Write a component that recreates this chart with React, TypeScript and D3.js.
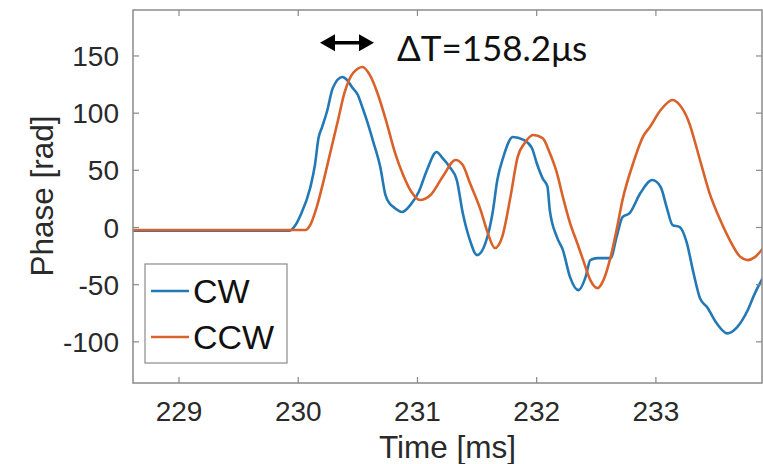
import React from "react";
import * as d3 from "d3";

const cwTime = [228.61, 229.93, 229.97, 230.02, 230.10, 230.14, 230.17, 230.20, 230.24, 230.29, 230.37, 230.41, 230.45, 230.50, 230.54, 230.58, 230.63, 230.69, 230.73, 230.77, 230.80, 230.87, 230.94, 231.01, 231.08, 231.16, 231.21, 231.27, 231.33, 231.38, 231.44, 231.50, 231.57, 231.63, 231.67, 231.72, 231.80, 231.89, 231.96, 232.00, 232.05, 232.09, 232.11, 232.17, 232.22, 232.28, 232.35, 232.41, 232.45, 232.51, 232.62, 232.67, 232.72, 232.78, 232.87, 232.97, 233.04, 233.09, 233.14, 233.20, 233.26, 233.31, 233.37, 233.43, 233.51, 233.60, 233.68, 233.77, 233.83, 233.90];
const cwPhase = [-2.7, -2.7, 1, 10.9, 34.5, 54.6, 78.2, 87.8, 101, 122, 131.6, 129, 122.9, 115.9, 104.5, 92.2, 74.7, 51.9, 29, 20.5, 17.8, 13.5, 19.6, 31, 50.3, 66, 60.7, 52.9, 41.5, 12.6, -11, -24.2, -13.7, 12.6, 41.5, 61.6, 79.1, 76.6, 69.5, 56.4, 43, 36, 15.2, -8.4, -19.8, -43.4, -54.8, -43.4, -28.5, -26.8, -26.8, -8.4, 9.1, 12.6, 30.1, 41.5, 35.4, 17.9, 2.1, 0.4, -13.6, -37.3, -61.9, -69.8, -83.8, -92.6, -87.3, -72.4, -57.6, -43.6];

const ccwTime = [228.61, 230.06, 230.10, 230.16, 230.21, 230.27, 230.33, 230.39, 230.46, 230.54, 230.60, 230.67, 230.74, 230.81, 230.88, 230.95, 231.02, 231.11, 231.21, 231.32, 231.38, 231.44, 231.53, 231.59, 231.65, 231.71, 231.78, 231.84, 231.90, 231.97, 232.05, 232.11, 232.17, 232.22, 232.28, 232.34, 232.39, 232.45, 232.51, 232.56, 232.62, 232.67, 232.72, 232.81, 232.89, 232.95, 233.04, 233.14, 233.20, 233.27, 233.37, 233.45, 233.54, 233.62, 233.71, 233.77, 233.83, 233.90];
const ccwPhase = [-2.2, -2.2, 2.1, 19.6, 39.7, 66, 92.2, 118.5, 135.1, 140.4, 133.4, 115.9, 92.2, 66, 45.9, 31, 24, 28.4, 44.1, 59, 54.6, 38.9, 15.2, -4.9, -18, -8.4, 26.6, 61.6, 73.9, 80.9, 78.2, 65.1, 47.6, 26.6, 3.9, -13.6, -28.5, -46, -53, -46, -25.9, -2.3, 24, 56.4, 79.1, 87.9, 102.7, 111.5, 107.1, 94, 59, 30.1, 6.5, -11, -25.9, -28.5, -25.9, -18];

const xTicks = [229, 230, 231, 232, 233];
const yTicks = [-100, -50, 0, 50, 100, 150];
const seriesNames = ["CW", "CCW"];
const annotation = "ΔT=158.2μs";

const W = 763, H = 464;
const L = 133, R = 762, T = 10, B = 383;
const blue = "#2279b5";
const orange = "#d9622b";
const axisCol = "#8a8a8a";
const textCol = "#2a2a2a";
const font = "'Liberation Sans', Arial, Helvetica, sans-serif";

export default function App() {
  const x = d3.scaleLinear().domain([228.614, 233.89]).range([L, R]);
  const y = d3.scaleLinear().domain([-136, 190.2]).range([B, T]);
  const line = d3
    .line<[number, number]>()
    .x((d) => x(d[0]))
    .y((d) => y(d[1]))
    .curve(d3.curveMonotoneX);
  const cw = cwTime.map((t, i) => [t, cwPhase[i]] as [number, number]);
  const ccw = ccwTime.map((t, i) => [t, ccwPhase[i]] as [number, number]);
  const tl = 6;
  const ay = 42.7, ax1 = 320, ax2 = 374;
  return (
    <svg width={W} height={H} style={{ position: "absolute", left: 0, top: 0, background: "#fff" }}>
      <defs>
        <clipPath id="plot">
          <rect x={L} y={T} width={R - L} height={B - T} />
        </clipPath>
      </defs>
      <rect x={0} y={0} width={W} height={H} fill="#fff" />
      <g clipPath="url(#plot)" fill="none" strokeWidth={2.6} strokeLinejoin="round">
        <path d={line(cw) || ""} stroke={blue} />
        <path d={line(ccw) || ""} stroke={orange} />
      </g>
      <rect x={L} y={T} width={R - L} height={B - T} fill="none" stroke={axisCol} strokeWidth={1.5} />
      {xTicks.map((t) => (
        <g key={"x" + t}>
          <line x1={x(t)} x2={x(t)} y1={B} y2={B - tl} stroke={axisCol} strokeWidth={1.2} />
          <line x1={x(t)} x2={x(t)} y1={T} y2={T + tl} stroke={axisCol} strokeWidth={1.2} />
          <text x={x(t)} y={421} textAnchor="middle" fontSize={28} fontFamily={font} fill={textCol}>
            {t}
          </text>
        </g>
      ))}
      {yTicks.map((t) => (
        <g key={"y" + t}>
          <line x1={L} x2={L + tl} y1={y(t)} y2={y(t)} stroke={axisCol} strokeWidth={1.2} />
          <line x1={R} x2={R - tl} y1={y(t)} y2={y(t)} stroke={axisCol} strokeWidth={1.2} />
          <text x={119} y={y(t)} dy="0.36em" textAnchor="end" fontSize={28} fontFamily={font} fill={textCol}>
            {t}
          </text>
        </g>
      ))}
      <text x={(L + R) / 2} y={458} textAnchor="middle" fontSize={31.5} fontFamily={font} fill={textCol}>
        Time [ms]
      </text>
      <text transform="translate(53,196) rotate(-90)" textAnchor="middle" fontSize={31.5} fontFamily={font} fill={textCol}>
        Phase [rad]
      </text>
      <rect x={145} y={264} width={142} height={99} fill="#fff" stroke={axisCol} strokeWidth={1.2} />
      {seriesNames.map((n, i) => (
        <g key={n}>
          <line x1={151} x2={189} y1={291 + i * 46} y2={291 + i * 46} stroke={i === 0 ? blue : orange} strokeWidth={2.6} />
          <text x={193} y={291 + i * 46} dy="0.36em" fontSize={34} fontFamily={font} fill="#111">
            {n}
          </text>
        </g>
      ))}
      <line x1={ax1 + 10} x2={ax2 - 10} y1={ay} y2={ay} stroke="#000" strokeWidth={3.6} />
      <path d={`M${ax1},${ay} L${ax1 + 15},${ay - 8.5} L${ax1 + 15},${ay + 8.5} Z`} fill="#000" />
      <path d={`M${ax2},${ay} L${ax2 - 15},${ay - 8.5} L${ax2 - 15},${ay + 8.5} Z`} fill="#000" />
      <text x={397} y={61} fontSize={35} fontFamily="Lato, 'Open Sans', sans-serif" fill="#111">
        {annotation}
      </text>
    </svg>
  );
}
